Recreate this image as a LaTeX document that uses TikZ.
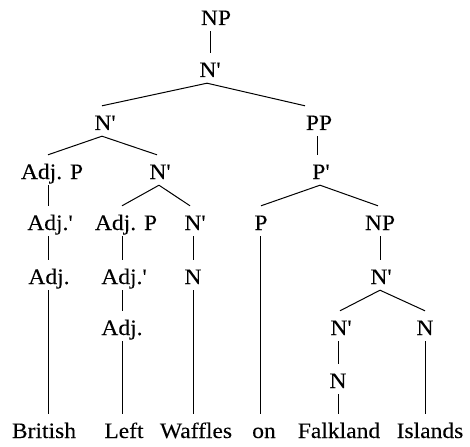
\documentclass[tikz,border=0pt]{standalone}
\usepackage{fontspec}
\setmainfont{Liberation Serif}[FakeStretch=1.07,FakeBold=0.1,Ligatures=TeXOff]
\begin{document}
\begin{tikzpicture}[x=1pt,y=-1pt,
  lab/.style={anchor=base,inner sep=0pt,text height=20pt,text depth=2pt,inner ysep=4pt,font=\fontsize{22}{26}\selectfont},
  edge/.style={line width=1pt}]
\useasboundingbox (0,0) rectangle (470,446);
% row 0-1
\node[lab] (np0) at (216,25) {NP};
\node[lab] (nb1) at (210,77) {N'};
% row 2
\node[lab] (nb2) at (105,130) {N'};
\node[lab] (pp) at (319,130) {PP};
% row 3
\node[lab] (adjp1) at (52,179) {Adj. P};
\node[lab] (nb3) at (160,179) {N'};
\node[lab] (pb) at (321,179) {P'};
% row 4
\node[lab] (adjb1) at (50,230) {Adj.'};
\node[lab] (adjp2) at (126,230) {Adj. P};
\node[lab] (nb4) at (195,230) {N'};
\node[lab] (p) at (261,230) {P};
\node[lab] (np2) at (380,230) {NP};
% row 5
\node[lab] (adj1) at (49,284) {Adj.};
\node[lab] (adjb2) at (124,284) {Adj.'};
\node[lab] (n1) at (193,284) {N};
\node[lab] (nb5) at (381,284) {N'};
% row 6
\node[lab] (adj2) at (122,335) {Adj.};
\node[lab] (nb6) at (341,335) {N'};
\node[lab] (n2) at (425,335) {N};
% row 7
\node[lab] (n3) at (338,388) {N};
% words
\node[lab] (w1) at (44,438) {British};
\node[lab] (w2) at (124,438) {Left};
\node[lab] (w3) at (196,438) {Waffles};
\node[lab] (w4) at (264,438) {on};
\node[lab] (w5) at (339,438) {Falkland};
\node[lab] (w6) at (430,438) {Islands};
% edges
\draw[edge] (nb1.north |- np0.south) -- (nb1.north);
\draw[edge] ([xshift=-3pt]nb1.south) -- ([xshift=-3pt]nb2.north);
\draw[edge] ([xshift=-3pt]nb1.south) -- ([xshift=-14pt]pp.north);
\draw[edge] ([xshift=-3pt]nb2.south) -- ([xshift=-4pt]adjp1.north);
\draw[edge] ([xshift=-3pt]nb2.south) -- ([xshift=-3pt]nb3.north);
\draw[edge] ([xshift=-2pt]pp.north |- pp.south) -- ([xshift=-2pt]pp.north |- pb.north);
\draw[edge] ([xshift=-4pt]adjp1.south) -- ([xshift=-4pt]adjp1.south |- adjb1.north);
\draw[edge] ([xshift=-1pt]nb3.south) -- ([xshift=-4pt]adjp2.north);
\draw[edge] ([xshift=-1pt]nb3.south) -- ([xshift=-5pt]nb4.north);
\draw[edge] ([xshift=-1pt]pb.south) -- (p.north);
\draw[edge] ([xshift=-1pt]pb.south) -- ([xshift=-2pt]np2.north);
\draw[edge] ([xshift=-2pt]adjb1.south) -- ([xshift=-2pt]adjb1.south |- adj1.north);
\draw[edge] ([xshift=-4pt]adjp2.south) -- ([xshift=-4pt]adjp2.south |- adjb2.north);
\draw[edge] ([xshift=-2pt]nb4.south) -- ([xshift=-2pt]nb4.south |- n1.north);
\draw[edge] ([xshift=-1pt]p.south) -- ([xshift=-1pt]p.south |- w4.north);
\draw[edge] (np2.south) -- (np2.south |- nb5.north);
\draw[edge] ([xshift=-1pt]adj1.south) -- ([xshift=-1pt]adj1.south |- w1.north);
\draw[edge] ([xshift=-2pt]adjb2.south) -- ([xshift=-2pt]adjb2.south |- adj2.north);
\draw[edge] (n1.south) -- (n1.south |- w3.north);
\draw[edge] ([xshift=-1pt]nb5.south) -- ([xshift=-1pt]nb6.north);
\draw[edge] ([xshift=-1pt]nb5.south) -- (n2.north);
\draw[edge] (adj2.south) -- (adj2.south |- w2.north);
\draw[edge] (n3.north |- nb6.south) -- (n3.north);
\draw[edge] (n3.south) -- (n3.south |- w5.north);
\draw[edge] (n2.south) -- (n2.south |- w6.north);
\end{tikzpicture}
\end{document}
